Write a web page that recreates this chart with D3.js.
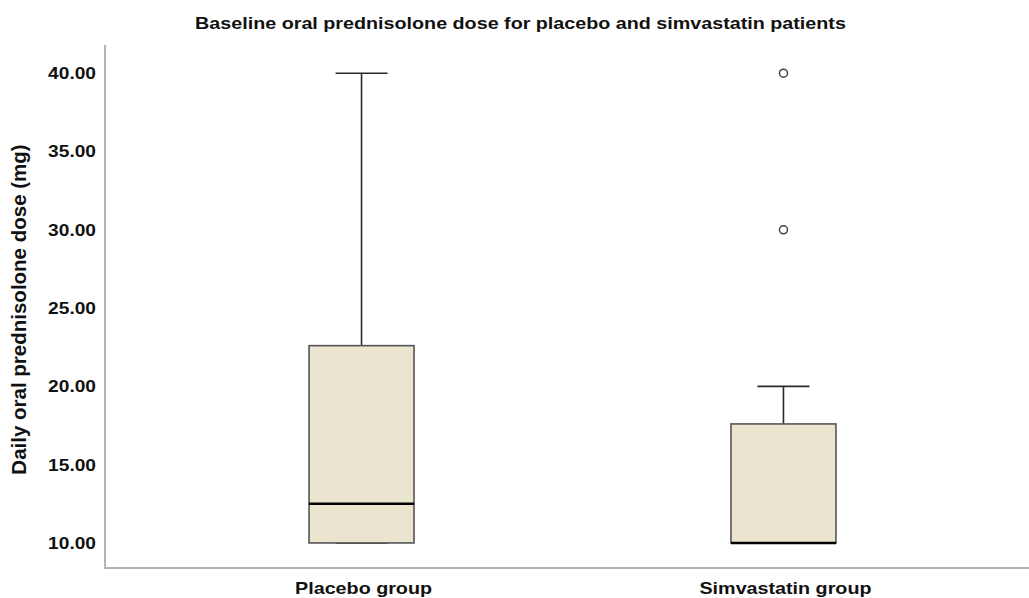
<!DOCTYPE html>
<html>
<head>
<meta charset="utf-8">
<script src="https://cdn.jsdelivr.net/npm/d3@7"></script>
<style>
  html, body { margin: 0; padding: 0; background: #fff; }
  svg { display: block; }
  text { font-family: "Liberation Sans", Arial, sans-serif; font-weight: bold; fill: #111; }
</style>
</head>
<body>
<svg id="chart" width="1029" height="598"></svg>
<script>
// Box-plot summaries of baseline oral prednisolone dose (mg/day)
const groups = ["Placebo group", "Simvastatin group"];
const whiskerLow = [10, 10];
const quartile1 = [10, 10];
const medians = [12.5, 10];
const quartile3 = [22.6, 17.6];
const whiskerHigh = [40, 20];
const outliers = [[], [30, 40]];
const yTicks = [10, 15, 20, 25, 30, 35, 40];

const titleText = "Baseline oral prednisolone dose for placebo and simvastatin patients";
const yTitle = "Daily oral prednisolone dose (mg)";

const svg = d3.select("#chart");
const W = 1029, H = 598;
const plotLeft = 105, plotBottom = 568, plotTop = 45, plotRight = 1040;
const stretch = 1.16;

const y = d3.scaleLinear().domain([8.4, 41.8]).range([plotBottom, plotTop]);
const x = d3.scalePoint().domain(groups).range([plotLeft, plotRight]).padding(0.608);

const boxW = 105;
const capW = 52;

const data = groups.map((g, i) => ({
  g, lo: whiskerLow[i], q1: quartile1[i], med: medians[i],
  q3: quartile3[i], hi: whiskerHigh[i], out: outliers[i]
}));

// Title
svg.append("text")
  .attr("transform", `translate(${W / 2 + 6},29) scale(${stretch},1)`)
  .attr("text-anchor", "middle")
  .style("font-size", "17px")
  .text(titleText);

// Axis lines
const axisColor = "#b4b4b4";
svg.append("line").attr("x1", plotLeft).attr("x2", plotLeft).attr("y1", plotTop).attr("y2", plotBottom)
  .attr("stroke", axisColor).attr("stroke-width", 2);
svg.append("line").attr("x1", plotLeft - 1).attr("x2", W).attr("y1", plotBottom).attr("y2", plotBottom)
  .attr("stroke", axisColor).attr("stroke-width", 2);

// Y tick labels
svg.append("g").selectAll("text").data(yTicks).join("text")
  .attr("transform", d => `translate(96,${y(d) + 6}) scale(${stretch},1)`)
  .attr("text-anchor", "end")
  .style("font-size", "16.5px")
  .text(d => d3.format(".2f")(d));

// Y axis title
svg.append("text")
  .attr("transform", `translate(26,${(plotTop + plotBottom) / 2 + 3}) rotate(-90)`)
  .attr("text-anchor", "middle")
  .style("font-size", "20.5px")
  .text(yTitle);

// X category labels
svg.append("g").selectAll("text").data(groups).join("text")
  .attr("transform", d => `translate(${x(d) + 2},594) scale(${stretch},1)`)
  .attr("text-anchor", "middle")
  .style("font-size", "17px")
  .text(d => d);

// Boxes
const box = svg.append("g").selectAll("g").data(data).join("g");

// whisker stems
box.append("line")
  .attr("x1", d => x(d.g)).attr("x2", d => x(d.g))
  .attr("y1", d => y(d.q3)).attr("y2", d => y(d.hi))
  .attr("stroke", "#2a2a2a").attr("stroke-width", 1.6);
box.append("line")
  .attr("x1", d => x(d.g)).attr("x2", d => x(d.g))
  .attr("y1", d => y(d.lo)).attr("y2", d => y(d.q1))
  .attr("stroke", "#2a2a2a").attr("stroke-width", 1.6);
// whisker caps
box.append("line")
  .attr("x1", d => x(d.g) - capW / 2).attr("x2", d => x(d.g) + capW / 2)
  .attr("y1", d => y(d.hi)).attr("y2", d => y(d.hi))
  .attr("stroke", "#2a2a2a").attr("stroke-width", 1.6);
box.append("line")
  .attr("x1", d => x(d.g) - capW / 2).attr("x2", d => x(d.g) + capW / 2)
  .attr("y1", d => y(d.lo)).attr("y2", d => y(d.lo))
  .attr("stroke", "#2a2a2a").attr("stroke-width", 1.6);

box.append("rect")
  .attr("x", d => x(d.g) - boxW / 2)
  .attr("width", boxW)
  .attr("y", d => y(d.q3))
  .attr("height", d => y(d.q1) - y(d.q3))
  .attr("fill", "#ebe4cf")
  .attr("stroke", "#555").attr("stroke-width", 1.6);

// medians
box.append("line")
  .attr("x1", d => x(d.g) - boxW / 2).attr("x2", d => x(d.g) + boxW / 2)
  .attr("y1", d => y(d.med)).attr("y2", d => y(d.med))
  .attr("stroke", "#000").attr("stroke-width", 2.6);

// outliers
box.selectAll("circle").data(d => d.out.map(v => ({ g: d.g, v }))).join("circle")
  .attr("cx", d => x(d.g)).attr("cy", d => y(d.v))
  .attr("r", 4)
  .attr("fill", "#fff")
  .attr("stroke", "#444").attr("stroke-width", 1.5);
</script>
</body>
</html>
